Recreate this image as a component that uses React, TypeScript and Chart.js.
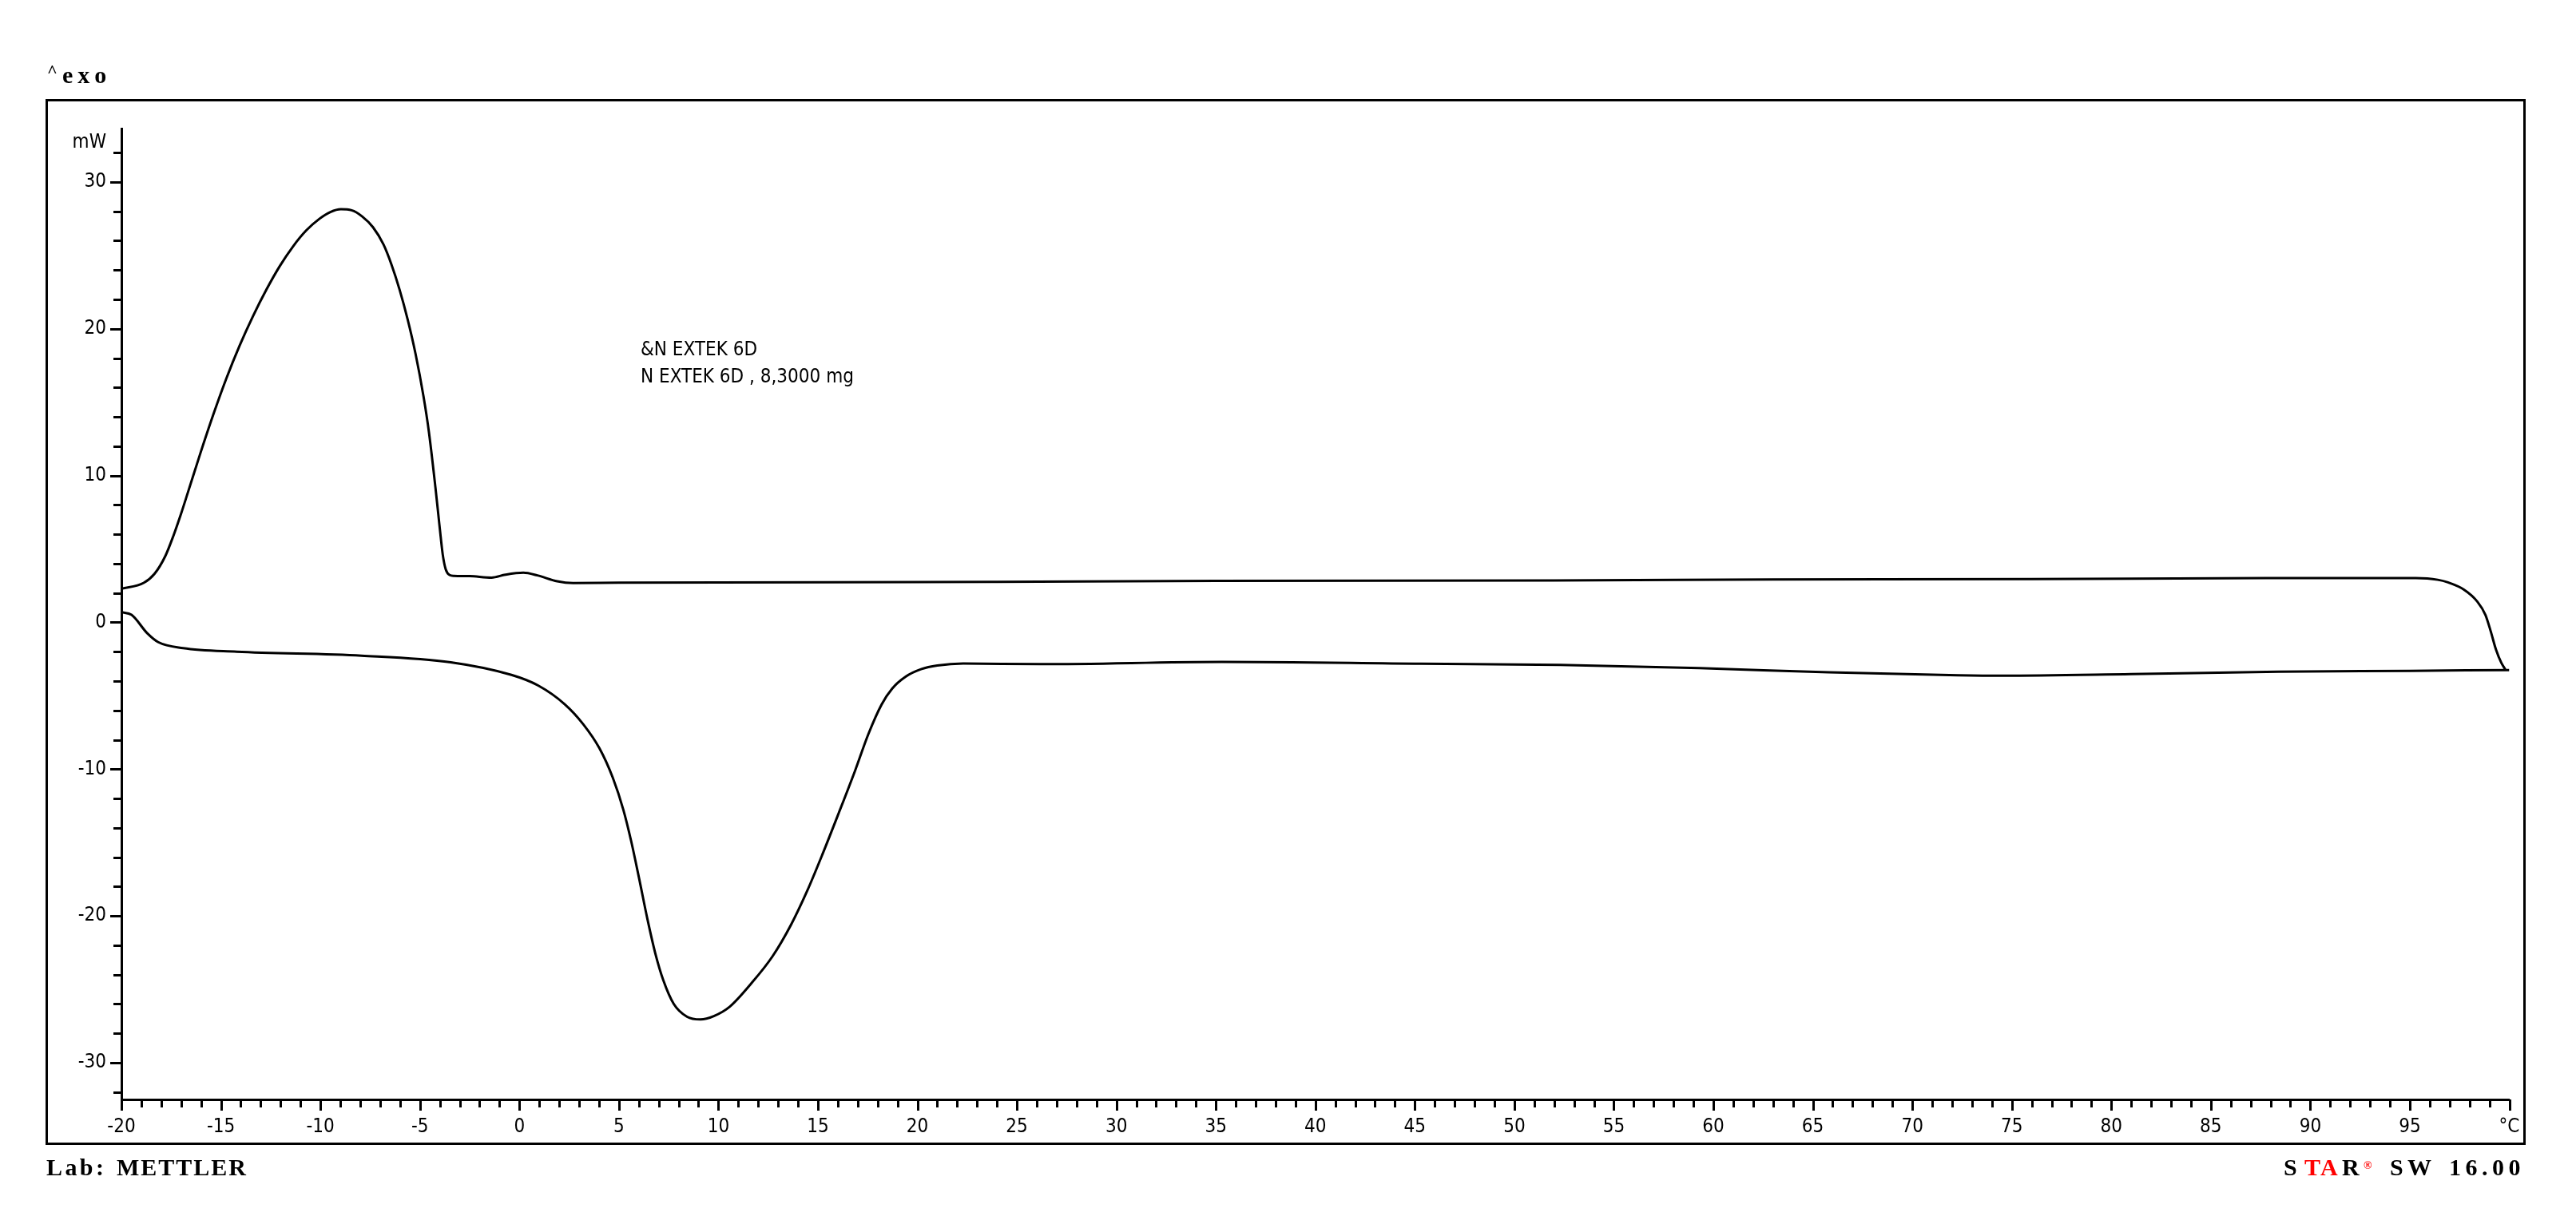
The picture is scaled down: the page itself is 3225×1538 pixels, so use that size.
import React, { useEffect, useRef } from 'react';
import { Chart, registerables } from 'chart.js';

Chart.register(...registerables);

// ---- data (temperature in °C, heat flow in mW) ----
const upperT = [-20, -18.88, -18.34, -17.8, -17.4, -17.0, -16.67, -16.06, -15.39, -14.73, -14.06, -13.39, -12.72, -12.05, -11.38, -10.71, -10.04, -9.5, -8.97, -8.43, -7.9, -7.36, -6.83, -6.43, -6.02, -5.62, -5.22, -4.82, -4.55, -4.22, -4.0, -3.85, -3.7, -3.5, -3.3, -2.5, -1.4, -0.7, 0.2, 0.9, 1.9, 2.7, 5, 10, 20, 24, 35, 52, 63, 76, 88, 95.3, 96.4, 96.92, 97.72, 98.39, 98.8, 99.06, 99.33, 99.6, 99.8];
const upperMW = [2.29, 2.69, 3.3, 4.5, 5.85, 7.41, 8.8, 11.4, 14.12, 16.6, 18.85, 20.85, 22.65, 24.25, 25.6, 26.7, 27.5, 27.95, 28.14, 28.07, 27.65, 26.92, 25.74, 24.38, 22.66, 20.66, 18.3, 15.4, 13.0, 9.2, 6.4, 4.6, 3.6, 3.22, 3.17, 3.15, 3.05, 3.25, 3.38, 3.2, 2.8, 2.68, 2.7, 2.72, 2.74, 2.76, 2.83, 2.85, 2.92, 2.95, 3.01, 3.01, 2.9, 2.72, 2.23, 1.42, 0.51, -0.58, -1.85, -2.76, -3.21];

const lowerT = [-20, -19.49, -18.69, -18.15, -16.9, -14.2, -7.93, -3.45, -0.4, 0.94, 2.28, 3.21, 4.02, 4.69, 5.22, 5.62, 6.02, 6.43, 6.83, 7.23, 7.76, 8.43, 9.1, 9.77, 10.57, 11.65, 12.72, 13.65, 14.46, 15.26, 16.06, 16.87, 17.54, 18.2, 18.74, 19.41, 20.21, 21.0, 22.3, 26.2, 35.3, 45.3, 52.3, 59.3, 65.8, 72.3, 74.5, 81, 88.4, 95, 100];
const lowerMW = [0.69, 0.51, -0.76, -1.35, -1.76, -2.0, -2.27, -2.72, -3.58, -4.3, -5.58, -6.94, -8.57, -10.57, -12.75, -14.92, -17.47, -20.19, -22.55, -24.37, -26.0, -26.87, -27.05, -26.82, -26.18, -24.6, -22.75, -20.6, -18.3, -15.7, -12.95, -10.1, -7.6, -5.6, -4.5, -3.7, -3.18, -2.94, -2.8, -2.85, -2.69, -2.82, -2.9, -3.12, -3.4, -3.6, -3.63, -3.52, -3.36, -3.3, -3.25];

// ---- axes ----
const xMin = -20;
const xMax = 100;
const xMajorStep = 5;
const xMinorStep = 1;
const yMin = -32.5;
const yMax = 33.6;
const yMajorStep = 10;
const yMinorStep = 2;
const yUnit = 'mW';
const xUnit = '°C';

// ---- texts ----
const exoText = 'exo';
const annotationLines = ['&N EXTEK 6D', 'N EXTEK 6D , 8,3000 mg'];
const labParts = ['Lab:', 'METTLER'];

const SANS = "'DejaVu Sans Condensed', 'DejaVu Sans', sans-serif";
const SERIF = "'Liberation Serif', 'DejaVu Serif', serif";

function txt(ctx: any, s: string, x: number, y: number, font: string, color: string, ls = 0, align: CanvasTextAlign = 'left', baseline: CanvasTextBaseline = 'alphabetic') {
  ctx.save();
  ctx.font = font;
  ctx.fillStyle = color;
  ctx.textAlign = align;
  ctx.textBaseline = baseline;
  try { ctx.letterSpacing = ls + 'px'; } catch (e) { /* ignore */ }
  ctx.fillText(s, x, y);
  ctx.restore();
}

const decor = {
  id: 'decor',
  afterDraw(chart: any) {
    const ctx = chart.ctx;
    const xs = chart.scales.x;
    const ys = chart.scales.y;
    const area = chart.chartArea;
    ctx.save();
    // outer frame
    ctx.strokeStyle = '#000';
    ctx.lineWidth = 3;
    ctx.strokeRect(58.5, 125.5, 3102, 1307);

    // x ticks
    ctx.lineWidth = 3;
    ctx.beginPath();
    for (let t = xMin; t <= xMax + 1e-9; t += xMinorStep) {
      const px = Math.round(xs.getPixelForValue(t)) + 0.5;
      const major = Math.abs(t % xMajorStep) < 1e-9;
      ctx.moveTo(px, area.bottom);
      ctx.lineTo(px, area.bottom + (major ? 14 : 10));
    }
    // y ticks
    for (let v = -32; v <= 32 + 1e-9; v += yMinorStep) {
      const py = Math.round(ys.getPixelForValue(v)) + 0.5;
      const major = Math.abs(v % yMajorStep) < 1e-9;
      ctx.moveTo(area.left, py);
      ctx.lineTo(area.left - (major ? 14 : 10), py);
    }
    ctx.stroke();
    ctx.restore();

    // unit on y axis
    txt(ctx, yUnit, 133, 179, `24px ${SANS}`, '#000', 0, 'right', 'middle');

    // ^exo
    txt(ctx, '^', 59, 96, `bold 22px ${SERIF}`, '#000');
    txt(ctx, exoText, 78, 104, `bold 30px ${SERIF}`, '#000', 6);

    // annotation
    txt(ctx, annotationLines[0], 802, 445, `24px ${SANS}`, '#000');
    txt(ctx, annotationLines[1], 802, 479, `24px ${SANS}`, '#000');

    // footer left
    txt(ctx, labParts[0], 58, 1472, `bold 30px ${SERIF}`, '#000', 3.4);
    txt(ctx, labParts[1], 146, 1472, `bold 30px ${SERIF}`, '#000', 2);

    // footer right: STAR® SW 16.00
    const f = `bold 30px ${SERIF}`;
    txt(ctx, 'S', 2859, 1472, f, '#000');
    txt(ctx, 'T', 2885, 1472, f, '#ff0000');
    txt(ctx, 'A', 2905, 1472, f, '#ff0000');
    txt(ctx, 'R', 2932, 1472, f, '#000');
    txt(ctx, '®', 2959, 1464, `bold 14px ${SERIF}`, '#ff0000');
    txt(ctx, 'S', 2992, 1472, f, '#000');
    txt(ctx, 'W', 3014, 1472, f, '#000');
    txt(ctx, '16.00', 3161, 1472, f, '#000', 5.5, 'right');
  },
};

export default function App() {
  const ref = useRef<HTMLCanvasElement>(null);
  useEffect(() => {
    const chart = new Chart(ref.current as HTMLCanvasElement, {
      type: 'line',
      data: {
        datasets: [
          {
            label: 'upper',
            data: upperT.map((x, i) => ({ x, y: upperMW[i] })),
            borderColor: '#000',
            borderWidth: 3,
            pointRadius: 0,
            fill: false,
            cubicInterpolationMode: 'monotone',
          },
          {
            label: 'lower',
            data: lowerT.map((x, i) => ({ x, y: lowerMW[i] })),
            borderColor: '#000',
            borderWidth: 3,
            pointRadius: 0,
            fill: false,
            cubicInterpolationMode: 'monotone',
          },
        ],
      },
      options: {
        animation: false,
        responsive: false,
        devicePixelRatio: 1,
        layout: { padding: { left: 58, right: 83.5, top: 161.7, bottom: 101 } },
        plugins: { legend: { display: false }, tooltip: { enabled: false } },
        scales: {
          x: {
            type: 'linear',
            min: xMin,
            max: xMax,
            grid: { display: false, drawTicks: false },
            border: { display: true, color: '#000', width: 3 },
            ticks: {
              stepSize: xMajorStep,
              color: '#000',
              padding: 20,
              maxRotation: 0,
              autoSkip: false,
              font: { family: SANS, size: 24 },
              callback: (v: any) => (Number(v) === xMax ? xUnit : String(v)),
            },
            afterFit: (s: any) => { s.height = 60; },
          },
          y: {
            type: 'linear',
            min: yMin,
            max: yMax,
            grid: { display: false, drawTicks: false },
            border: { display: true, color: '#000', width: 3 },
            ticks: {
              stepSize: yMajorStep,
              includeBounds: false,
              color: '#000',
              padding: 19,
              font: { family: SANS, size: 24 },
              callback: (v: any) => String(v),
            },
            afterFit: (s: any) => { s.width = 94; },
          },
        },
      } as any,
      plugins: [decor],
    });
    return () => chart.destroy();
  }, []);
  return (
    <div style={{ position: 'fixed', left: 0, top: 0, width: 3225, height: 1538, background: '#fff' }}>
      <canvas ref={ref} width={3225} height={1538} style={{ display: 'block' }} />
    </div>
  );
}
